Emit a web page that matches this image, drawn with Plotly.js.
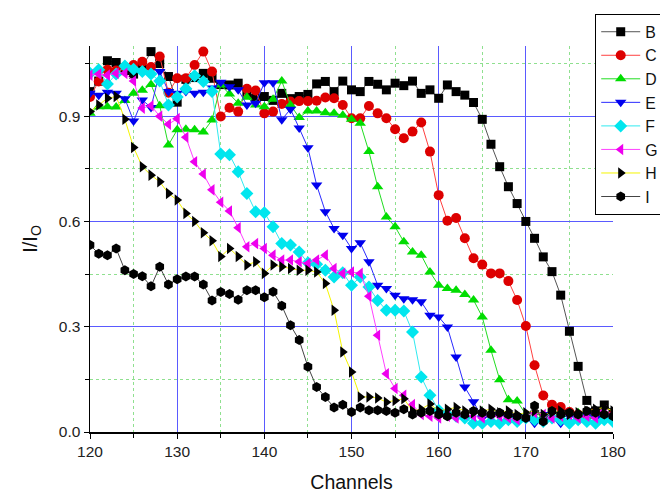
<!DOCTYPE html>
<html>
<head>
<meta charset="utf-8">
<script src="https://cdn.plot.ly/plotly-3.0.1.min.js"></script>
<style>html,body{margin:0;padding:0;background:#fff;}#chart{width:660px;height:493px;}</style>
</head>
<body>
<div id="chart"></div>
<script>
var channels = [120,121,122,123,124,125,126,127,128,129,130,131,132,133,134,135,136,137,138,139,140,141,142,143,144,145,146,147,148,149,150,151,152,153,154,155,156,157,158,159,160,161,162,163,164,165,166,167,168,169,170,171,172,173,174,175,176,177,178,179,180];

var seriesNames = ["B","C","D","E","F","G","H","I"];

var B = [0.97,1.00,1.058,1.053,1.03,1.02,1.04,1.084,1.05,1.013,0.94,1.005,1.01,1.022,1.008,0.99,0.989,0.994,0.965,0.951,0.956,0.945,0.965,0.95,0.956,0.962,0.992,0.999,0.97,1.0,0.975,0.97,0.999,0.991,0.975,0.994,0.987,1.0,0.965,0.975,0.951,0.989,0.97,0.96,0.939,0.891,0.82,0.756,0.699,0.651,0.6,0.552,0.499,0.457,0.39,0.287,0.187,0.09,0.06,0.077,0.055];
var C = [0.955,0.999,1.032,1.03,1.04,1.046,1.055,1.04,1.07,0.967,1.008,1.008,1.046,1.084,1.027,0.899,0.924,0.913,0.978,0.973,0.908,0.913,0.935,0.942,0.943,0.943,0.944,0.953,0.951,0.932,0.894,0.894,0.929,0.908,0.894,0.863,0.837,0.856,0.882,0.799,0.675,0.602,0.61,0.552,0.495,0.477,0.452,0.452,0.43,0.376,0.302,0.19,0.104,0.078,0.071,0.057,0.05,0.045,0.055,0.04,0.048];
var D = [0.908,0.927,0.927,0.926,0.945,0.965,0.974,0.99,0.93,0.818,0.861,0.863,0.861,0.855,0.889,0.989,0.963,0.937,0.954,0.932,0.927,0.948,1.0,0.932,0.896,0.915,0.915,0.91,0.908,0.903,0.891,0.88,0.799,0.699,0.613,0.585,0.542,0.513,0.504,0.456,0.418,0.409,0.404,0.392,0.376,0.328,0.233,0.149,0.092,0.088,0.05,0.055,0.045,0.06,0.04,0.05,0.055,0.045,0.05,0.04,0.045];
var E = [0.965,0.96,0.968,0.965,0.95,0.886,0.946,0.925,1.027,0.97,0.965,0.97,0.965,0.968,0.98,0.997,0.984,0.975,0.932,0.937,0.995,0.995,0.89,0.92,0.866,0.81,0.704,0.628,0.58,0.561,0.523,0.539,0.485,0.418,0.409,0.39,0.38,0.377,0.371,0.333,0.328,0.299,0.214,0.128,0.086,0.04,0.045,0.05,0.04,0.045,0.04,0.025,0.05,0.04,0.025,0.045,0.04,0.05,0.04,0.045,0.04];
var F = [1.022,1.032,0.992,1.02,1.043,1.034,1.027,1.02,1.0,0.932,0.955,0.978,1.015,0.999,0.97,0.792,0.79,0.742,0.68,0.628,0.625,0.585,0.537,0.533,0.513,0.482,0.478,0.461,0.442,0.454,0.418,0.442,0.413,0.375,0.347,0.347,0.345,0.285,0.157,0.105,0.062,0.05,0.045,0.04,0.025,0.025,0.03,0.025,0.035,0.03,0.04,0.035,0.03,0.04,0.035,0.025,0.035,0.03,0.025,0.035,0.03];
var G = [1.017,1.02,1.017,1.022,1.022,1.0,0.923,0.93,0.9,0.877,0.893,0.84,0.77,0.735,0.69,0.655,0.63,0.582,0.528,0.537,0.523,0.504,0.49,0.49,0.485,0.48,0.49,0.504,0.466,0.452,0.456,0.452,0.387,0.276,0.166,0.124,0.105,0.078,0.05,0.045,0.04,0.045,0.04,0.05,0.045,0.04,0.05,0.045,0.04,0.035,0.045,0.055,0.05,0.04,0.045,0.05,0.04,0.045,0.04,0.06,0.05];
var H = [0.913,0.932,0.951,0.956,0.891,0.811,0.756,0.732,0.713,0.68,0.661,0.623,0.6,0.568,0.545,0.5,0.523,0.5,0.476,0.485,0.452,0.476,0.471,0.466,0.461,0.461,0.456,0.423,0.347,0.228,0.171,0.1,0.1,0.097,0.085,0.09,0.095,0.06,0.065,0.08,0.06,0.065,0.07,0.06,0.055,0.06,0.065,0.055,0.06,0.05,0.055,0.06,0.05,0.055,0.06,0.05,0.055,0.06,0.065,0.07,0.06];
var I = [0.533,0.508,0.504,0.523,0.461,0.45,0.444,0.415,0.471,0.42,0.435,0.443,0.443,0.42,0.375,0.399,0.393,0.377,0.404,0.404,0.384,0.4,0.36,0.304,0.262,0.186,0.128,0.1,0.07,0.078,0.057,0.07,0.062,0.062,0.06,0.055,0.065,0.05,0.055,0.06,0.05,0.045,0.055,0.05,0.06,0.055,0.05,0.055,0.05,0.045,0.04,0.075,0.03,0.06,0.05,0.055,0.05,0.06,0.055,0.05,0.045];

var values = [B,C,D,E,F,G,H,I];
var symbols = ["square","circle","triangle-up","triangle-down","diamond","triangle-left","triangle-right","hexagon"];
var markerColors = ["#000000","#dd0000","#00dd00","#0000ee","#00e6ee","#ee00ee","#000000","#000000"];
var lineColors = ["#555555","#ff4040","#22dd22","#2a2aff","#30eaf0","#ff40ff","#f5f500","#444444"];
var sizes = [9,10,10,10,10,10,10,10];

var traces = seriesNames.map(function(n, k){
  return {
    x: channels, y: values[k], name: n, type: "scatter", mode: "lines+markers",
    line: {color: lineColors[k], width: 1},
    marker: {symbol: symbols[k], color: markerColors[k], size: sizes[k], line: {width: 0}}
  };
});

var gridBlue = "#5a5aff";
var gridGreen = "#8fe08f";
var layout = {
  width: 660, height: 493,
  margin: {l: 90, r: 47, t: 46, b: 61, autoexpand: false},
  paper_bgcolor: "#ffffff", plot_bgcolor: "#ffffff",
  font: {family: "Liberation Sans, Arial, sans-serif", color: "#222"},
  showlegend: true,
  legend: {
    x: 0.966, y: 1.083, xanchor: "left", yanchor: "top", xref: "paper", yref: "paper",
    bordercolor: "#000", borderwidth: 1, bgcolor: "#fff",
    font: {size: 15.8, color: "#111"}, itemwidth: 39, tracegroupgap: 0
  },
  xaxis: {
    range: [120, 180], tick0: 120, dtick: 10, tickformat: "d",
    showline: true, linecolor: "#000", linewidth: 1.5,
    ticks: "outside", ticklen: 5, tickcolor: "#000", tickwidth: 1,
    tickfont: {size: 15.5, color: "#222"},
    showgrid: true, gridcolor: gridBlue, gridwidth: 1, zeroline: false,
    minor: {dtick: 5, tick0: 120, ticks: "outside", ticklen: 4, tickcolor: "#000", showgrid: true, gridcolor: gridGreen, griddash: "dot", gridwidth: 1},
    title: {text: "Channels", font: {size: 19.5, color: "#111"}, standoff: 18}
  },
  yaxis: {
    range: [0, 1.1], tick0: 0, dtick: 0.3, tickformat: ".1f",
    showline: true, linecolor: "#000", linewidth: 1.5,
    ticks: "outside", ticklen: 5, tickcolor: "#000", tickwidth: 1,
    tickfont: {size: 15.5, color: "#222"},
    showgrid: true, gridcolor: gridBlue, gridwidth: 1, zeroline: false,
    minor: {dtick: 0.15, tick0: 0, ticks: "outside", ticklen: 4, tickcolor: "#000", showgrid: true, gridcolor: gridGreen, griddash: "dot", gridwidth: 1},
    title: {text: "I/I<sub>O</sub>", font: {size: 20, color: "#111"}, standoff: 16}
  }
};

Plotly.newPlot("chart", traces, layout, {displayModeBar: false, staticPlot: true});
</script>
</body>
</html>
